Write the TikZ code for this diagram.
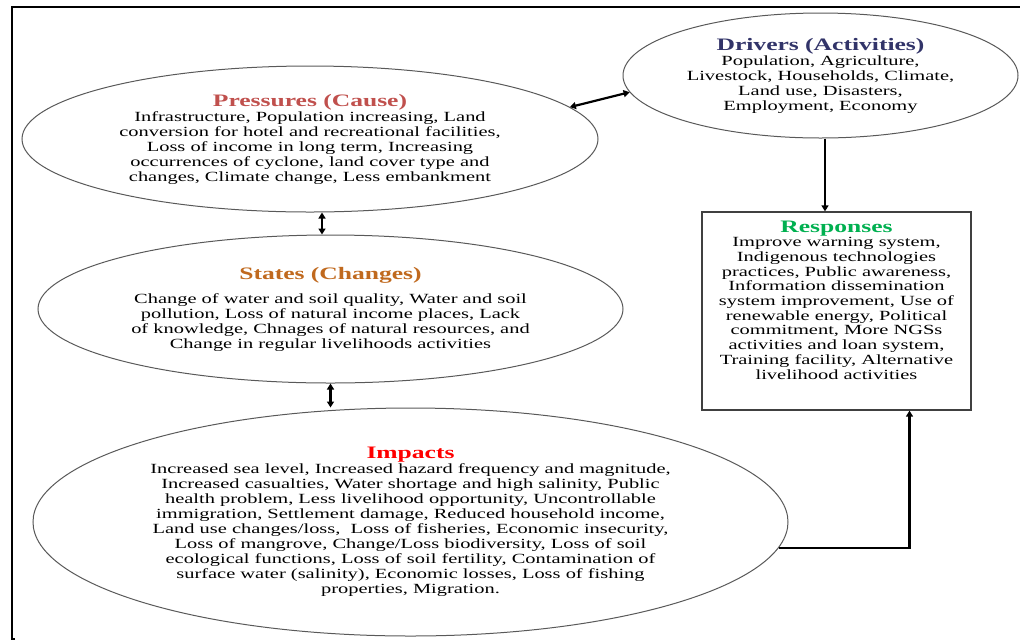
\documentclass[tikz,border=0pt]{standalone}
\usepackage{fontspec}
\setmainfont{Liberation Serif}[FakeStretch=1.46]
\usepackage{tikz}
\usetikzlibrary{shapes,shapes.geometric,arrows.meta,positioning,calc}

\definecolor{drvcol}{RGB}{50,52,105}
\definecolor{prescol}{RGB}{192,80,77}
\definecolor{statecol}{RGB}{192,105,30}
\definecolor{respcol}{RGB}{0,176,80}
\definecolor{impcol}{RGB}{255,0,0}

\begin{document}
\begin{tikzpicture}[
  x=1pt, y=-1pt,
  oval/.style={draw=black!65, line width=1pt, ellipse, inner sep=0pt,
    align=center, font=\fontsize{14}{15}\selectfont},
  box/.style={draw=black!75, line width=1.3pt, rectangle, inner sep=0pt},
  boxtext/.style={inner sep=0pt, align=center, font=\fontsize{14}{14.7}\selectfont},
  >={Triangle[length=6pt,width=7pt]},
  arr/.style={->, line width=2.4pt},
  dbl/.style={<->, line width=2.2pt}
]
\useasboundingbox (0,0) rectangle (1020,641);

% frame
\draw[line width=1.6pt] (15,639) -- (12,639) -- (12,7) -- (1020,7);

\node[oval, minimum width=395, minimum height=125] (drv) at (820.5,75.5)
  {{\fontsize{17.5}{19}\selectfont\bfseries\color{drvcol}Drivers (Activities)}\\
   Population, Agriculture,\\ Livestock, Households, Climate,\\
   Land use, Disasters,\\ Employment, Economy};
\node[oval, minimum width=576, minimum height=146] (pres) at (310,139)
  {{\fontsize{17.5}{19}\selectfont\bfseries\color{prescol}Pressures (Cause)}\\
   Infrastructure, Population increasing, Land\\
   conversion for hotel and recreational facilities,\\
   Loss of income in long term, Increasing\\
   occurrences of cyclone, land cover type and\\
   changes, Climate change, Less embankment};
\node[oval, minimum width=585, minimum height=148] (states) at (330.5,309)
  {{\fontsize{17.5}{19}\selectfont\bfseries\color{statecol}States (Changes)}\\[9pt]
   Change of water and soil quality, Water and soil\\
   pollution, Loss of natural income places, Lack\\
   of knowledge, Chnages of natural resources, and\\
   Change in regular livelihoods activities};
\node[oval, minimum width=755, minimum height=228] (imp) at (410.5,522)
  {{\fontsize{17.5}{19}\selectfont\bfseries\color{impcol}Impacts}\\[0.5pt]
   Increased sea level, Increased hazard frequency and magnitude,\\
   Increased casualties, Water shortage and high salinity, Public\\
   health problem, Less livelihood opportunity, Uncontrollable\\
   immigration, Settlement damage, Reduced household income,\\
   Land use changes/loss,\ \ Loss of fisheries, Economic insecurity,\\
   Loss of mangrove, Change/Loss biodiversity, Loss of soil\\
   ecological functions, Loss of soil fertility, Contamination of\\
   surface water (salinity), Economic losses, Loss of fishing\\
   properties, Migration.};
\node[box, minimum width=269, minimum height=198] (resp) at (836.5,311) {};
\node[boxtext, below=9pt of resp.north] (resptxt)
  {{\fontsize{17.5}{19}\selectfont\bfseries\color{respcol}Responses}\\
   Improve warning system,\\ Indigenous technologies\\
   practices, Public awareness,\\ Information dissemination\\
   system improvement, Use of\\ renewable energy, Political\\
   commitment, More NGSs\\ activities and loan system,\\
   Training facility, Alternative\\ livelihood activities};

\draw[dbl] (pres.7) -- (drv.185);
\draw[dbl] ([xshift=12pt]pres.south) -- ([xshift=-8.5pt]states.north);
\draw[dbl] (states.south) -- (states.south |- imp.north);
\draw[arr] ([xshift=4.5pt]drv.south) -- ([xshift=-11.5pt]resp.north);
\draw[arr] (imp.-4.2) -| ([xshift=73pt]resp.south);
\end{tikzpicture}
\end{document}
